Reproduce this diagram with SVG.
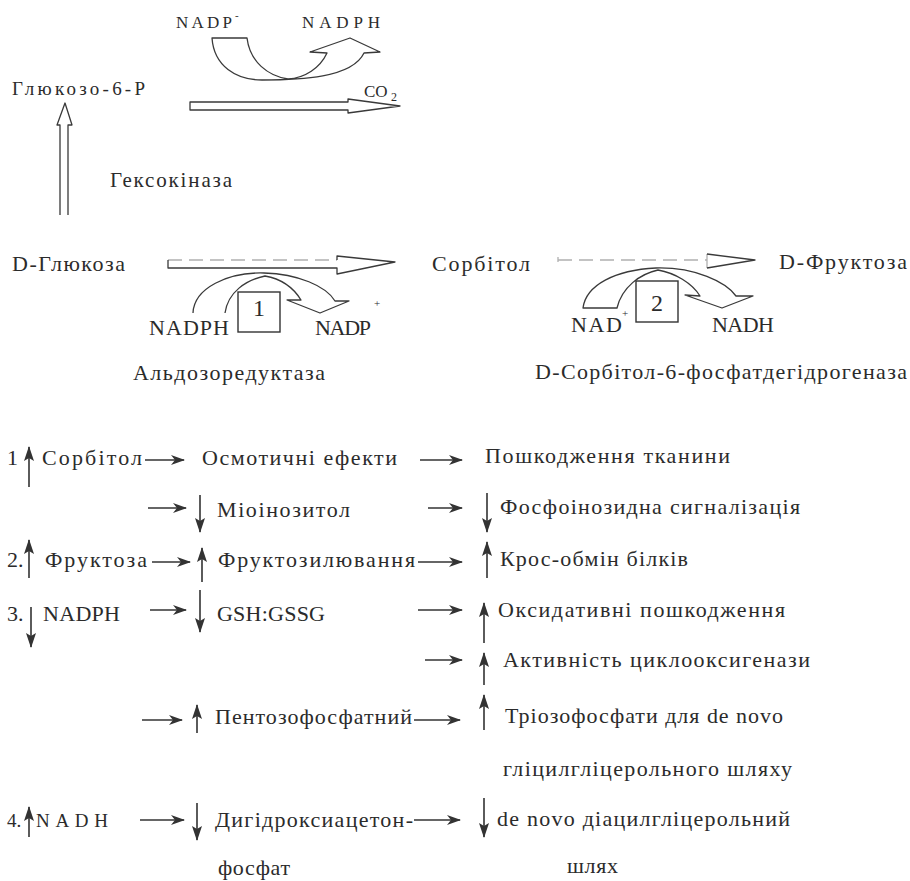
<svg xmlns="http://www.w3.org/2000/svg" width="910" height="881" viewBox="0 0 910 881">
<defs>
<style>
text{font-family:"Liberation Serif","Times New Roman",serif;fill:#2b2b2b;font-size:22px}
.s17{font-size:17px}
.s18{font-size:19px}
.s20{font-size:21px}
.sup{font-size:11px}
.box{fill:none;stroke:#333;stroke-width:1.4}
.ol{fill:none;stroke:#3a3a3a;stroke-width:1.3;stroke-linejoin:round}
.faint{fill:none;stroke:#b0b0b0;stroke-width:1.3;stroke-dasharray:14 7}
.ar{fill:none;stroke:#333;stroke-width:1.6}
</style>
<marker id="hd" viewBox="0 0 14 10" refX="13" refY="5" markerWidth="14" markerHeight="10" markerUnits="userSpaceOnUse" orient="auto">
<path d="M0,0 L14,5 L0,10 L4,5 Z" fill="#333"/>
</marker>
<marker id="vd" viewBox="0 0 15 10" refX="14" refY="5" markerWidth="15" markerHeight="10" markerUnits="userSpaceOnUse" orient="auto">
<path d="M0,0 L15,5 L0,10 L3,5 Z" fill="#333"/>
</marker>
</defs>
<rect width="910" height="881" fill="#fff"/>

<g id="connectors">
<path class="ol" d="M212,38 C214,66 236,80 262,80 C300,80 352,78 364,53 L380,52 L350,38 L310,52 L327,53 C320,68 305,78 288,79 C268,76 250,62 247,38 Z"/>
<path class="ol" fill="#fff" d="M190,102 L348,102 L348,99 L400,106 L348,113 L348,110 L190,110 Z"/>
<path class="ol" d="M60,215 L60,125 L57,125 L65,103 L72,125 L68,125 L68,215"/>
<path class="faint" d="M168,260 L337,260"/>
<path class="ol" d="M168,260 L168,268 L337,268 L337,274 L395,262 L337,256 L337,260"/>
<path class="ol" d="M193,313 C194,288 228,272 264,273 C298,274 326,286 335,301 L349,301 L320,313 L287,300 L301,300 C293,287 282,279 265,276 C246,280 228,292 225,313"/>
<path class="faint" d="M558,260 L707,260 M707,254 L707,268"/>
<path class="faint" style="stroke-dasharray:none" d="M558,257 L558,262"/>
<path class="ol" d="M707,254 L755,260 L707,268"/>
<path class="ol" d="M583,308 C586,285 615,270 656,268 C695,267 726,282 736,296 L753,296 L722,308 L685,295 L700,296 C692,283 675,273 658,270 C640,274 622,287 617,308 Z"/>

<g class="ar" marker-end="url(#hd)">
<line x1="145" y1="460" x2="184" y2="460"/>
<line x1="420" y1="460" x2="462" y2="460"/>
<line x1="148" y1="508" x2="186" y2="508"/>
<line x1="428" y1="508" x2="462" y2="508"/>
<line x1="152" y1="562" x2="190" y2="562"/>
<line x1="418" y1="562" x2="462" y2="562"/>
<line x1="150" y1="610" x2="186" y2="610"/>
<line x1="418" y1="610" x2="462" y2="610"/>
<line x1="425" y1="660" x2="462" y2="660"/>
<line x1="142" y1="720" x2="182" y2="720"/>
<line x1="414" y1="720" x2="460" y2="720"/>
<line x1="140" y1="820" x2="184" y2="820"/>
<line x1="414" y1="820" x2="460" y2="820"/>
</g>
<g class="ar" marker-end="url(#vd)">
<line x1="29" y1="487" x2="29" y2="447"/>
<line x1="200" y1="495" x2="200" y2="532"/>
<line x1="487" y1="493" x2="487" y2="532"/>
<line x1="29" y1="578" x2="29" y2="540"/>
<line x1="202" y1="582" x2="202" y2="548"/>
<line x1="487" y1="578" x2="487" y2="542"/>
<line x1="31" y1="607" x2="31" y2="647"/>
<line x1="200" y1="590" x2="200" y2="632"/>
<line x1="484" y1="643" x2="484" y2="603"/>
<line x1="484" y1="685" x2="484" y2="653"/>
<line x1="197" y1="733" x2="197" y2="705"/>
<line x1="484" y1="730" x2="484" y2="695"/>
<line x1="29" y1="837" x2="29" y2="807"/>
<line x1="197" y1="803" x2="197" y2="840"/>
<line x1="484" y1="798" x2="484" y2="837"/>
</g>
</g>

<g id="nadp-top"><text class="s17" x="176" y="28" textLength="56" lengthAdjust="spacing">NADP</text><text class="sup" x="235" y="19">-</text></g>
<g id="nadph-top"><text class="s17" x="302" y="28" textLength="78" lengthAdjust="spacing">NADPH</text></g>
<g id="glucose6p"><text class="s18" x="12" y="95" textLength="133" lengthAdjust="spacing">Глюкозо-6-Р</text></g>
<g id="co2"><text class="s17" x="364" y="97">CO</text><text style="font-size:12px" x="391" y="101">2</text></g>
<g id="hexokinase"><text class="s20" x="110" y="187" textLength="122" lengthAdjust="spacing">Гексокіназа</text></g>
<g id="d-glucose"><text x="12" y="271" textLength="113" lengthAdjust="spacing">D-Глюкоза</text></g>
<g id="sorbitol"><text x="432" y="271" textLength="98" lengthAdjust="spacing">Сорбітол</text></g>
<g id="d-fructose"><text x="779" y="269" textLength="128" lengthAdjust="spacing">D-Фруктоза</text></g>
<g id="enzyme1"><rect class="box" x="238" y="292" width="42" height="40"/><text x="259" y="316" text-anchor="middle" style="font-size:24px">1</text></g>
<g id="nadph-mid"><text x="149" y="335" textLength="80" lengthAdjust="spacing">NADPH</text></g>
<g id="nadp-mid"><text x="315" y="335" textLength="56" lengthAdjust="spacing">NADP</text><text class="sup" x="374" y="307">+</text></g>
<g id="enzyme2"><rect class="box" x="636" y="281" width="42" height="41"/><text x="657" y="311" text-anchor="middle" style="font-size:24px">2</text></g>
<g id="nad-mid"><text x="571" y="332" textLength="51" lengthAdjust="spacing">NAD</text><text class="sup" x="622" y="317">+</text></g>
<g id="nadh-mid"><text x="712" y="332" textLength="62" lengthAdjust="spacing">NADH</text></g>
<g id="aldose-reductase"><text x="133" y="380" textLength="192" lengthAdjust="spacing">Альдозоредуктаза</text></g>
<g id="sdh"><text x="535" y="379" textLength="372" lengthAdjust="spacing">D-Сорбітол-6-фосфатдегідрогеназа</text></g>

<g id="row1">
<text x="7" y="465">1</text>
<text x="42" y="465" textLength="100" lengthAdjust="spacing">Сорбітол</text>
<text x="202" y="465" textLength="195" lengthAdjust="spacing">Осмотичні ефекти</text>
<text x="485" y="463" textLength="245" lengthAdjust="spacing">Пошкодження тканини</text>
</g>
<g id="row2">
<text x="217" y="517" textLength="133" lengthAdjust="spacing">Міоінозитол</text>
<text x="500" y="514" textLength="300" lengthAdjust="spacing">Фосфоінозидна сигналізація</text>
</g>
<g id="row3">
<text x="7" y="567">2.</text>
<text x="45" y="567" textLength="102" lengthAdjust="spacing">Фруктоза</text>
<text x="218" y="567" textLength="197" lengthAdjust="spacing">Фруктозилювання</text>
<text x="500" y="566" textLength="188" lengthAdjust="spacing">Крос-обмін білків</text>
</g>
<g id="row4">
<text x="7" y="621">3.</text>
<text x="43" y="621" textLength="77" lengthAdjust="spacing">NADPH</text>
<text x="217" y="621" textLength="108" lengthAdjust="spacing">GSH:GSSG</text>
<text x="498" y="617" textLength="287" lengthAdjust="spacing">Оксидативні пошкодження</text>
</g>
<g id="row5">
<text x="503" y="667" textLength="307" lengthAdjust="spacing">Активність циклооксигенази</text>
</g>
<g id="row6">
<text x="215" y="724" textLength="197" lengthAdjust="spacing">Пентозофосфатний</text>
<text x="505" y="723" textLength="278" lengthAdjust="spacing">Тріозофосфати для de novo</text>
<text x="503" y="776" textLength="289" lengthAdjust="spacing">гліцилгліцерольного шляху</text>
</g>
<g id="row8">
<text x="7" y="827" style="font-size:19px">4.</text>
<text x="36" y="827" textLength="72" lengthAdjust="spacing" style="font-size:19px">NADH</text>
<text x="215" y="827" textLength="198" lengthAdjust="spacing">Дигідроксиацетон-</text>
<text x="497" y="826" textLength="293" lengthAdjust="spacing">de novo діацилгліцерольний</text>
<text x="218" y="875" textLength="72" lengthAdjust="spacing">фосфат</text>
<text x="567" y="873" textLength="51" lengthAdjust="spacing">шлях</text>
</g>
</svg>
